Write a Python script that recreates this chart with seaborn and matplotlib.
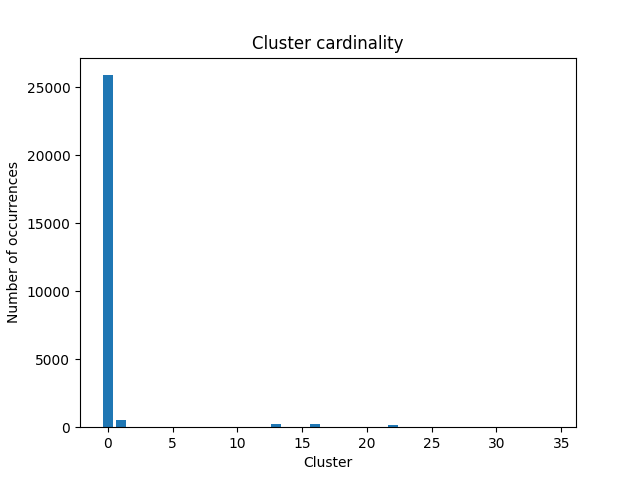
import numpy as np
import pandas as pd
import matplotlib
matplotlib.use("Agg")
import matplotlib.pyplot as plt
import seaborn as sb

clusters = list(range(35))
counts = [0] * 35
counts[0] = 25900
counts[1] = 520
counts[13] = 220
counts[16] = 220
counts[22] = 150

df = pd.DataFrame({"cluster": clusters, "count": counts})

fig, ax = plt.subplots(figsize=(6.4, 4.8), dpi=100)
sb.barplot(data=df, x="cluster", y="count", native_scale=True, color="#1f77b4",
           saturation=1, width=0.8, ax=ax)
ax.set_title("Cluster cardinality")
ax.set_xlabel("Cluster")
ax.set_ylabel("Number of occurrences")

plt.savefig("out.png")
plt.close()
